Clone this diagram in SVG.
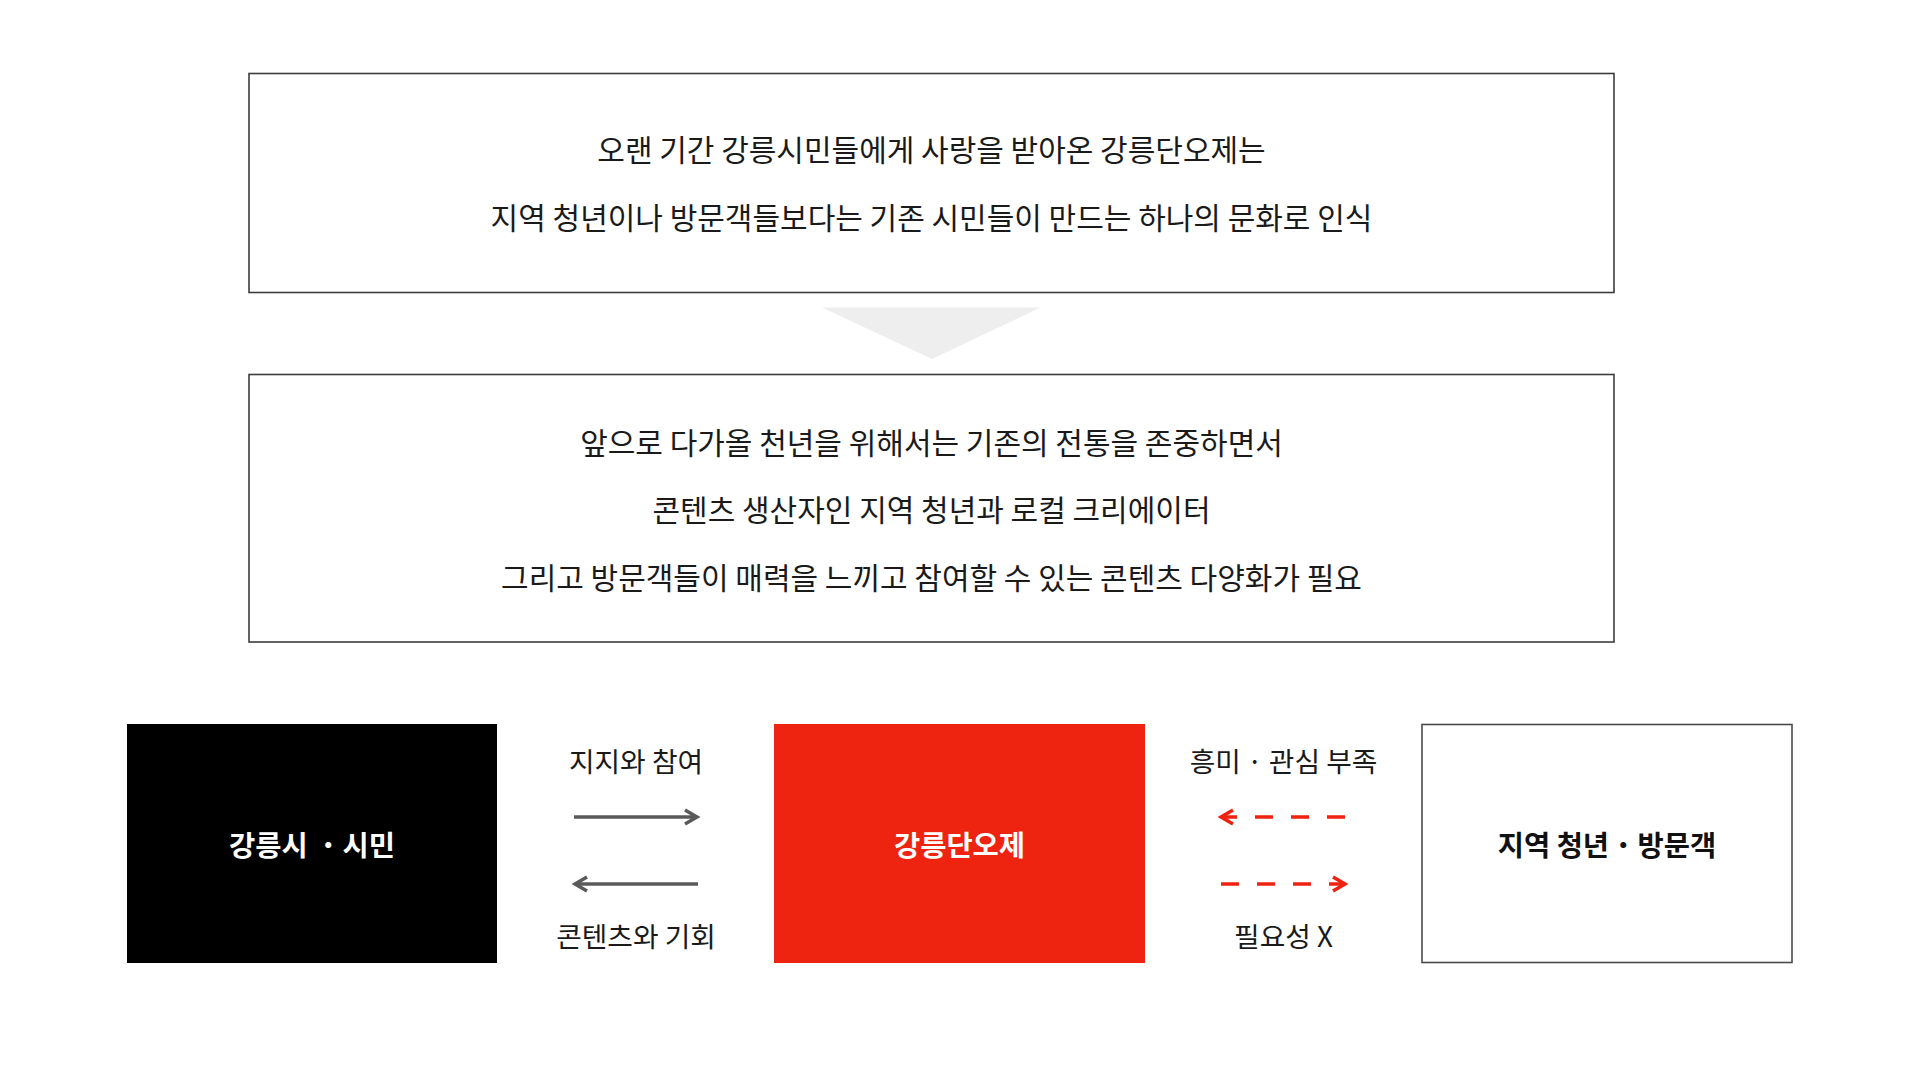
<svg xmlns="http://www.w3.org/2000/svg" width="1919" height="1077" viewBox="0 0 1919 1077">
  <style>
    text { font-family: "Noto Sans CJK KR", "Noto Sans", sans-serif; }
    .body { font-size: 30px; fill: #1a1a1a; text-anchor: middle; }
    .lbl { font-size: 27.8px; fill: #1a1a1a; text-anchor: middle; }
    .node { font-size: 28.5px; font-weight: 700; text-anchor: middle; }
    .dot { font-weight: 400; }
    .frame { fill: #ffffff; stroke: #3c3c3c; stroke-width: 1.6; }
    .gray { stroke: #5a5a5a; stroke-width: 3.5; fill: none; }
    .red { stroke: #ee2310; stroke-width: 3.5; fill: none; stroke-dasharray: 18 18; }
  </style>
  <defs>
    <marker id="chevGray" markerUnits="userSpaceOnUse" viewBox="-16 -10 20 20" refX="0" refY="0" markerWidth="20" markerHeight="20" orient="auto">
      <path d="M-12,-7 L0,0 L-12,7" fill="none" stroke="#5a5a5a" stroke-width="3.5"/>
    </marker>
    <marker id="chevRed" markerUnits="userSpaceOnUse" viewBox="-16 -10 20 20" refX="0" refY="0" markerWidth="20" markerHeight="20" orient="auto">
      <path d="M-12,-7 L0,0 L-12,7" fill="none" stroke="#ee2310" stroke-width="3.5"/>
    </marker>
  </defs>
  <rect width="1919" height="1077" fill="#ffffff"/>

  <g id="box-top">
    <rect class="frame" x="249" y="73.5" width="1365" height="219"/>
    <text class="body" x="931.5" y="161">오랜 기간 강릉시민들에게 사랑을 받아온 강릉단오제는</text>
    <text class="body" x="931.5" y="229">지역 청년이나 방문객들보다는 기존 시민들이 만드는 하나의 문화로 인식</text>
  </g>

  <g id="down-triangle">
    <polygon points="822,307.5 1040.5,307.5 932,359" fill="#efeeef"/>
  </g>

  <g id="box-middle">
    <rect class="frame" x="249" y="374.5" width="1365" height="267.5"/>
    <text class="body" x="931.5" y="454">앞으로 다가올 천년을 위해서는 기존의 전통을 존중하면서</text>
    <text class="body" x="931.5" y="521">콘텐츠 생산자인 지역 청년과 로컬 크리에이터</text>
    <text class="body" x="931.5" y="589">그리고 방문객들이 매력을 느끼고 참여할 수 있는 콘텐츠 다양화가 필요</text>
  </g>

  <g id="node-citizens">
    <rect x="127" y="724" width="370" height="239" fill="#000000"/>
    <text class="node" x="312" y="856" fill="#ffffff">강릉시 <tspan class="dot">・</tspan>시민</text>
  </g>

  <g id="node-dano">
    <rect x="774" y="724" width="371" height="239" fill="#ee2310"/>
    <text class="node" x="959.5" y="856" fill="#ffffff">강릉단오제</text>
  </g>

  <g id="node-youth">
    <rect x="1422" y="724.5" width="370" height="238" fill="#ffffff" stroke="#4a4a4a" stroke-width="1.6"/>
    <text class="node" x="1607" y="856" fill="#111111">지역 청년<tspan class="dot">・</tspan>방문객</text>
  </g>

  <g id="connectors">
    <line class="gray" x1="574" y1="817" x2="697" y2="817" marker-end="url(#chevGray)"/>
    <line class="gray" x1="698" y1="884" x2="575" y2="884" marker-end="url(#chevGray)"/>
    <text class="lbl" x="636" y="772">지지와 참여</text>
    <text class="lbl" x="636" y="947">콘텐츠와 기회</text>

    <line class="red" x1="1345" y1="817" x2="1221" y2="817" marker-end="url(#chevRed)"/>
    <line class="red" x1="1221" y1="884" x2="1345" y2="884" marker-end="url(#chevRed)"/>
    <text class="lbl" x="1283.5" y="772">흥미 · 관심 부족</text>
    <text class="lbl" x="1283.5" y="947">필요성 X</text>
  </g>
</svg>
